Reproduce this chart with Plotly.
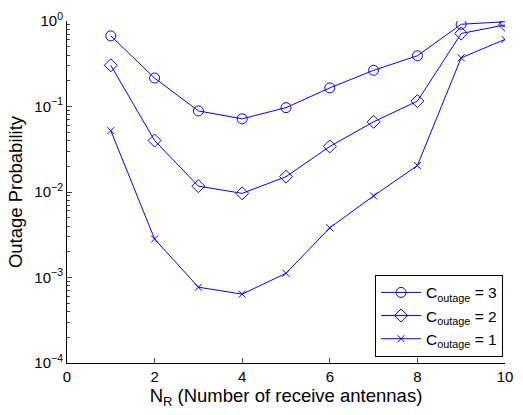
import plotly.graph_objects as go

nr = [1, 2, 3, 4, 5, 6, 7, 8, 9, 10]
c3 = [0.67, 0.215, 0.0887, 0.0718, 0.0969, 0.165, 0.265, 0.392, 0.916, 0.98]
c2 = [0.303, 0.040, 0.0117, 0.00964, 0.0151, 0.0341, 0.0662, 0.1156, 0.714, 0.90]
c1 = [0.0522, 0.00282, 0.00077, 0.000639, 0.00112, 0.00381, 0.0090, 0.0204, 0.371, 0.609]

names = ["C<sub>outage</sub> = 3", "C<sub>outage</sub> = 2", "C<sub>outage</sub> = 1"]
symbols = ["circle-open", "diamond-open", "x-thin-open"]
sizes = [10, 10, 7]
xticks = [0, 2, 4, 6, 8, 10]
yticks = [1e-4, 1e-3, 1e-2, 1e-1, 1]
yticktext = ["10<sup>−4</sup>", "10<sup>−3</sup>", "10<sup>−2</sup>", "10<sup>−1</sup>", "10<sup>0</sup>"]

blue = "#0000FF"
fig = go.Figure()
for ys, nm, sym, sz in zip([c3, c2, c1], names, symbols, sizes):
    fig.add_trace(go.Scatter(
        x=nr, y=ys, name=nm, mode="lines+markers",
        line=dict(color=blue, width=1),
        marker=dict(symbol=sym, size=sz, color=blue, line=dict(color=blue, width=1)),
    ))

minor_vals = [m * 10 ** e for e in range(-4, 0) for m in range(2, 10)]

fig.update_layout(
    width=523, height=415,
    margin=dict(l=67, r=10, t=16, b=52),
    paper_bgcolor="white", plot_bgcolor="white",
    font=dict(family="Liberation Sans, Arial, sans-serif", size=15, color="black"),
    showlegend=True,
    legend=dict(
        x=0.9955, y=0.018, xanchor="right", yanchor="bottom",
        bgcolor="white", bordercolor="black", borderwidth=1,
        font=dict(size=15.5), tracegroupgap=0, itemwidth=40,
    ),
)
fig.update_xaxes(
    range=[0, 10], tickvals=xticks, ticks="inside", ticklen=5,
    showline=True, linecolor="black", linewidth=1, showgrid=False, zeroline=False,
    title=dict(text="N<sub>R</sub> (Number of receive antennas)", font=dict(size=18.5), standoff=5),
    tickfont=dict(size=15),
)
fig.update_yaxes(
    type="log", range=[-4, 0], tickvals=yticks, ticktext=yticktext,
    ticks="inside", ticklen=5,
    minor=dict(tickmode="array", tickvals=minor_vals, ticks="inside", ticklen=3, showgrid=False),
    showline=True, linecolor="black", linewidth=1, showgrid=False, zeroline=False,
    title=dict(text="Outage Probability", font=dict(size=18.5), standoff=6),
    tickfont=dict(size=15),
)

fig.write_html("out.html")
